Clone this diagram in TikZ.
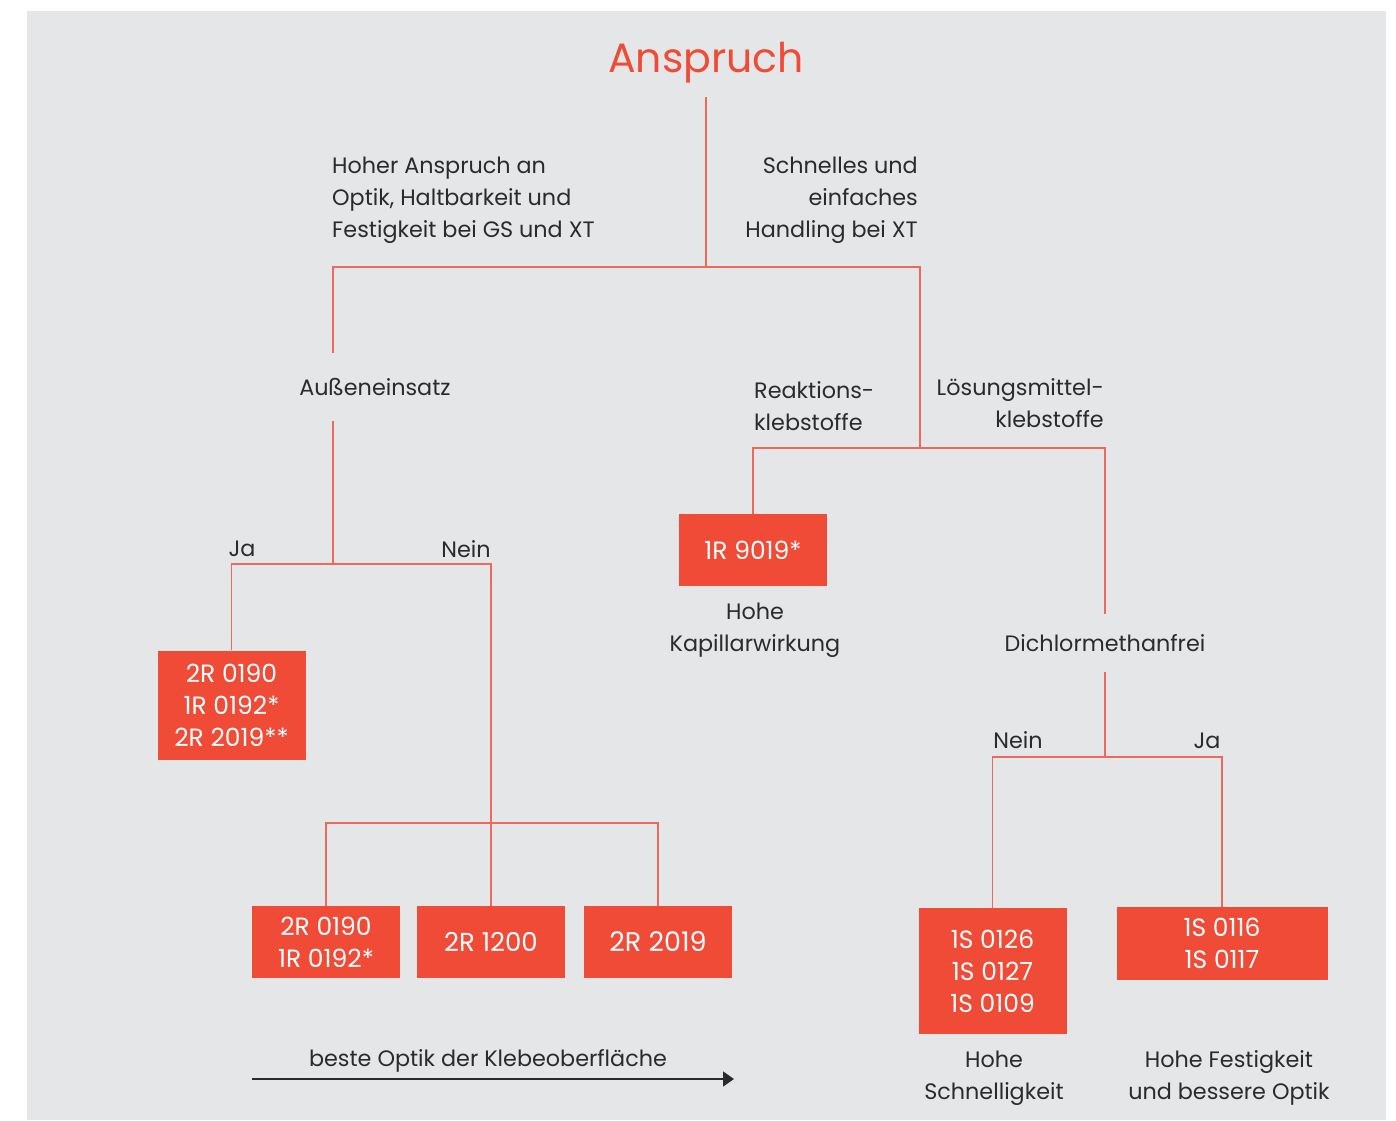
\documentclass[tikz,border=0pt]{standalone}
\usepackage{fontspec}
\setmainfont{Poppins}
\usetikzlibrary{arrows.meta}
\definecolor{boxred}{HTML}{F04B37}
\definecolor{linered}{HTML}{EC6A5C}
\definecolor{bggray}{HTML}{E5E6E8}
\definecolor{textgray}{HTML}{2B2B2B}
\tikzset{>=Latex}

\begin{document}
\begin{tikzpicture}[x = 1pt, y = -1pt,
	link/.style = {linered, line width = 1.4pt},
	prod/.style = {fill = boxred, text = white, align = center, inner sep = 0pt,
		minimum width = 148pt, minimum height = 72pt, font = \fontsize{25}{32}\selectfont},
	lbl/.style = {text = textgray, inner sep = 0pt, font = \fontsize{22.3}{32}\selectfont}]

\useasboundingbox (0,0) rectangle (1396,1120);
\fill[bggray] (27,11) rectangle (1386,1120);

\node[boxred, font = \fontsize{41}{48}\selectfont] (anspruch) at (706,63) {Anspruch};
\coordinate (stem) at (706,97);
\coordinate (j0) at (706,267);
\coordinate (j1) at (920,448);
\coordinate (j2) at (333,564);
\coordinate (j3) at (491,823);
\coordinate (j4) at (1105,757);

% first level
\node[lbl, anchor = west, align = left] (optik) at (332,200)
	{Hoher Anspruch an\\Optik, Haltbarkeit und\\Festigkeit bei GS und XT};
\node[lbl, anchor = east, align = right] (handling) at (918,200)
	{Schnelles und\\einfaches\\Handling bei XT};
\node[lbl, minimum height = 68pt] (aussen) at (375,387) {Außeneinsatz};
\node[lbl, anchor = west, align = left] (reaktion) at (754,406) {Reaktions-\\klebstoffe};
\node[lbl, anchor = east, align = right] (loesung) at (1104,403) {Lösungsmittel-\\klebstoffe};

\draw[link] (stem) -- (j0);
\draw[link] (j2 |- aussen.north) |- (j0) -| (j1);

% Aussen: ja / nein
\node[lbl] (ja1) at (242,549) {Ja};
\node[lbl] (nein1) at (466,549) {Nein};
\node[prod, minimum height = 109pt] (aussenja) at (231.5,705) {2R 0190\\1R 0192*\\2R 2019**};
\node[prod] (b0190) at (326,942) {2R 0190\\1R 0192*};
\foreach \name/\x/\fs/\txt in {b1200/491/26/2R 1200, b2019/658/27/2R 2019}
	\node[prod, font = \fontsize{\fs}{32}\selectfont] (\name) at (\x,942) {\txt};

\draw[link] (j2 |- aussen.south) -- (j2);
\draw[link] (aussenja.north) |- (j2) -| (b1200.north);
\draw[link] (b0190.north) |- (j3) -| (b2019.north);

\coordinate (optikstart) at (252,1079);
\coordinate (optikend) at (734,1079);
\draw[-{Triangle[length = 11pt, width = 15pt]}, textgray, line width = 1.6pt] (optikstart) -- (optikend);
\node[lbl] (optiklbl) at (488,1061) {beste Optik der Klebeoberfläche};

% Handling side
\node[prod] (r9019) at (753,550) {1R 9019*};
\node[lbl, align = center] (kapillar) at (755,630) {Hohe\\Kapillarwirkung};
\node[lbl, minimum height = 58pt] (dichlor) at (1105,643) {Dichlormethanfrei};
\draw[link] (r9019.north) |- (j1) -| (dichlor.north);
\draw[link] (dichlor.south) -- (j4);

\node[lbl] (nein2) at (1018,740) {Nein};
\node[lbl] (ja2) at (1207,741) {Ja};
\node[prod, minimum height = 126pt] (s0126) at (992.5,971) {1S 0126\\1S 0127\\1S 0109};
\node[prod, minimum width = 211pt, minimum height = 73pt] (s0116) at (1222,943.5) {1S 0116\\1S 0117};
\draw[link] (s0126.north) |- (j4) -| (s0116.north);

\node[lbl, align = center] (schnell) at (994,1078) {Hohe\\Schnelligkeit};
\node[lbl, align = center] (festig) at (1229,1078) {Hohe Festigkeit\\und bessere Optik};

\end{tikzpicture}
\end{document}
